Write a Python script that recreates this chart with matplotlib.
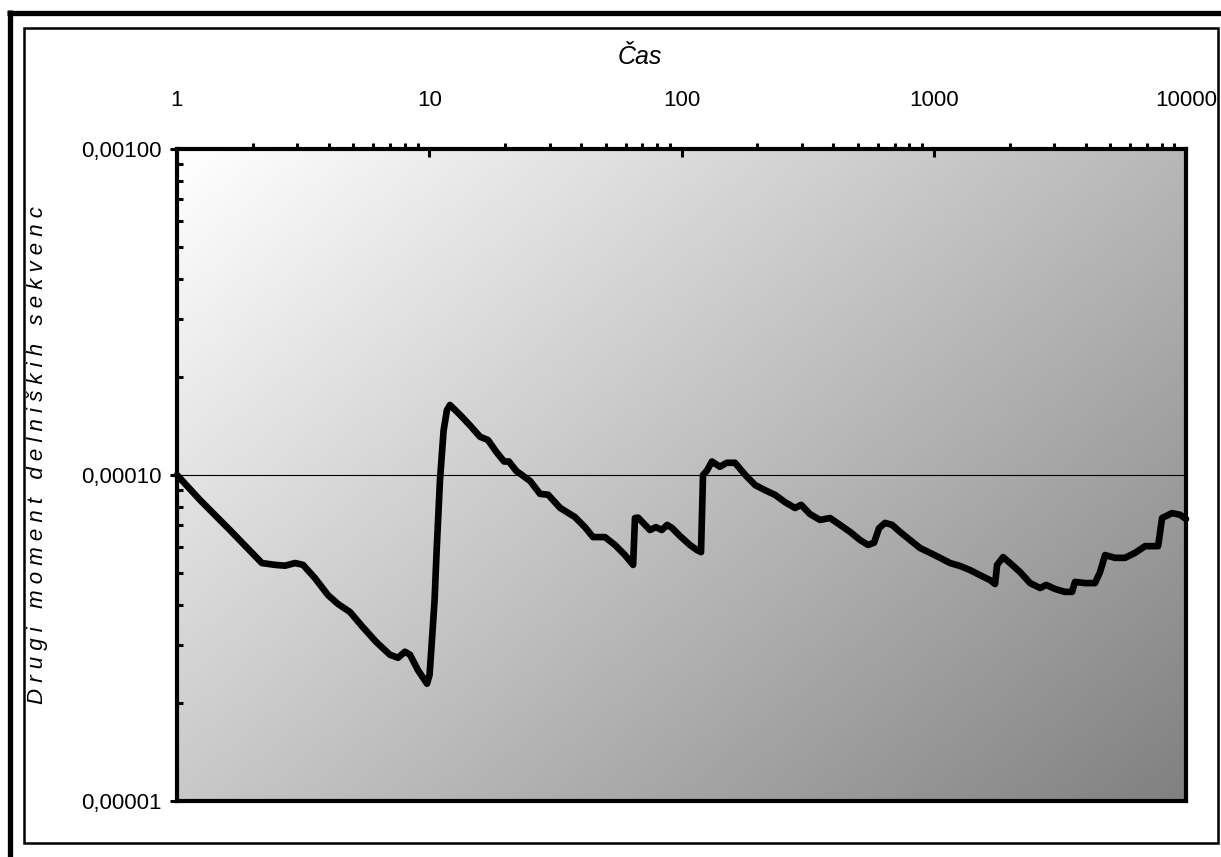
import numpy as np
import matplotlib.pyplot as plt
from matplotlib.ticker import FixedLocator, LogLocator, FuncFormatter, NullFormatter
from matplotlib.lines import Line2D
from matplotlib.patches import Rectangle

plt.rcParams['font.family'] = ['Liberation Sans', 'DejaVu Sans']

# time (log scale) and second moment
cas = [1, 1.234, 1.62, 2.17, 2.45, 2.68, 2.94, 3.16, 3.52, 3.97, 4.35, 4.85, 5.41,
       6.15, 6.98, 7.52, 8.01, 8.39, 9.02, 9.80, 10.03, 10.25, 10.5, 10.7, 11.03,
       11.4, 11.75, 12.08, 13.24, 14.5, 15.9, 17.1, 18.4, 19.8, 20.7, 22.1, 25.1,
       27.5, 29.6, 33.0, 37.8, 41.4, 44.6, 49.7, 54.5, 59.7, 64.3, 65.4, 67.3,
       71.7, 75.0, 79.2, 83.5, 87.7, 91.7, 98.6, 108, 115, 119.5, 121.7, 126, 132,
       142, 151, 163, 179, 196, 214, 235, 257, 282, 298, 323, 354, 388, 425, 466,
       510, 549, 580, 607, 641, 684, 735, 805, 883, 967, 1060, 1160, 1271, 1393,
       1525, 1672, 1750, 1783, 1883, 2006, 2198, 2410, 2640, 2790, 3030, 3314,
       3533, 3631, 3981, 4357, 4563, 4777, 5233, 5730, 6281, 6884, 7752, 8037,
       8810, 9470, 10000]
moment = [1.0e-4, 8.38e-5, 6.78e-5, 5.37e-5, 5.30e-5, 5.27e-5, 5.37e-5, 5.30e-5,
          4.83e-5, 4.28e-5, 4.02e-5, 3.80e-5, 3.44e-5, 3.08e-5, 2.81e-5, 2.75e-5,
          2.87e-5, 2.81e-5, 2.52e-5, 2.29e-5, 2.44e-5, 3.12e-5, 4.14e-5, 5.89e-5,
          9.66e-5, 1.37e-4, 1.58e-4, 1.64e-4, 1.53e-4, 1.42e-4, 1.31e-4, 1.28e-4,
          1.18e-4, 1.10e-4, 1.10e-4, 1.03e-4, 9.59e-5, 8.75e-5, 8.70e-5, 7.93e-5,
          7.43e-5, 6.92e-5, 6.45e-5, 6.45e-5, 6.10e-5, 5.68e-5, 5.30e-5, 7.38e-5,
          7.40e-5, 7.03e-5, 6.78e-5, 6.92e-5, 6.78e-5, 7.03e-5, 6.88e-5, 6.50e-5,
          6.10e-5, 5.89e-5, 5.80e-5, 1.0e-4, 1.03e-4, 1.10e-4, 1.06e-4, 1.09e-4,
          1.09e-4, 1.0e-4, 9.31e-5, 8.99e-5, 8.69e-5, 8.26e-5, 7.92e-5, 8.10e-5,
          7.59e-5, 7.28e-5, 7.38e-5, 7.03e-5, 6.69e-5, 6.32e-5, 6.10e-5, 6.20e-5,
          6.87e-5, 7.13e-5, 7.03e-5, 6.69e-5, 6.32e-5, 5.97e-5, 5.77e-5, 5.57e-5,
          5.37e-5, 5.26e-5, 5.11e-5, 4.93e-5, 4.76e-5, 4.63e-5, 5.30e-5, 5.60e-5,
          5.37e-5, 5.04e-5, 4.66e-5, 4.50e-5, 4.60e-5, 4.47e-5, 4.38e-5, 4.38e-5,
          4.70e-5, 4.66e-5, 4.66e-5, 5.04e-5, 5.68e-5, 5.57e-5, 5.57e-5, 5.77e-5,
          6.05e-5, 6.05e-5, 7.38e-5, 7.64e-5, 7.55e-5, 7.33e-5]

x_ticks = [1, 10, 100, 1000, 10000]
y_ticks = [1e-5, 1e-4, 1e-3]
y_labels = {1e-5: '0,00001', 1e-4: '0,00010', 1e-3: '0,00100'}

W, H = 1221, 857
fig = plt.figure(figsize=(W / 100, H / 100), dpi=100)

def fx(px):
    return px / W

def fy(py):
    return 1 - py / H

# frames around the chart
fig.add_artist(Line2D([fx(7), fx(W)], [fy(12.5), fy(12.5)], color='black', lw=3.8,
                      solid_capstyle='butt'))
fig.add_artist(Line2D([fx(10), fx(10)], [fy(10), fy(H)], color='black', lw=3.8,
                      solid_capstyle='butt'))
fig.add_artist(Rectangle((fx(23.5), fy(843)), fx(1218) - fx(23.5), fy(27.5) - fy(843),
                         fill=False, edgecolor='black', lw=1.8))

ax = fig.add_axes([fx(177), fy(801), fx(1186) - fx(177), fy(149) - fy(801)])
ax.set_xscale('log')
ax.set_yscale('log')
ax.set_xlim(1, 10000)
ax.set_ylim(1e-5, 1e-3)

# diagonal grey gradient behind the plot
u, v = np.meshgrid(np.linspace(0, 1, 400), np.linspace(0, 1, 300))
grad = (255 - 72 * u - 55 * v) / 255
ax.imshow(grad, cmap='gray', vmin=0, vmax=1, extent=[0, 1, 0, 1], origin='upper',
          transform=ax.transAxes, aspect='auto', zorder=0, interpolation='bilinear')

ax.axhline(1e-4, color='black', lw=0.8, zorder=1)
ax.plot(cas, moment, color='black', lw=4.8, solid_joinstyle='round',
        solid_capstyle='round', zorder=3, clip_on=False)

for s in ax.spines.values():
    s.set_linewidth(3)
    s.set_zorder(4)

ax.xaxis.set_ticks_position('top')
ax.xaxis.set_major_locator(FixedLocator(x_ticks))
ax.xaxis.set_minor_locator(LogLocator(base=10, subs=np.arange(2, 10)))
ax.xaxis.set_major_formatter(FuncFormatter(lambda val, pos: f'{val:.0f}'))
ax.xaxis.set_minor_formatter(NullFormatter())
ax.tick_params(axis='x', which='major', direction='in', length=6, width=2.2,
               pad=27, labelsize=16)
ax.tick_params(axis='x', which='minor', direction='out', length=4, width=2.2)

ax.yaxis.set_major_locator(FixedLocator(y_ticks))
ax.yaxis.set_minor_locator(LogLocator(base=10, subs=np.arange(2, 10)))
ax.yaxis.set_major_formatter(FuncFormatter(lambda val, pos: y_labels.get(val, '')))
ax.yaxis.set_minor_formatter(NullFormatter())
ax.tick_params(axis='y', which='major', direction='out', length=5, width=2.2,
               pad=6, labelsize=16)
ax.tick_params(axis='y', which='minor', direction='in', length=4, width=2.2)

fig.text(fx(640), fy(57), 'Čas', fontsize=18, style='italic', ha='center', va='center')
ylab = '   '.join(' '.join(w) for w in 'Drugi moment delniških sekvenc'.split())
fig.text(fx(38), fy(455), ylab, fontsize=16, style='italic', rotation=90,
         ha='center', va='center')

fig.savefig('out.png', dpi=100)
